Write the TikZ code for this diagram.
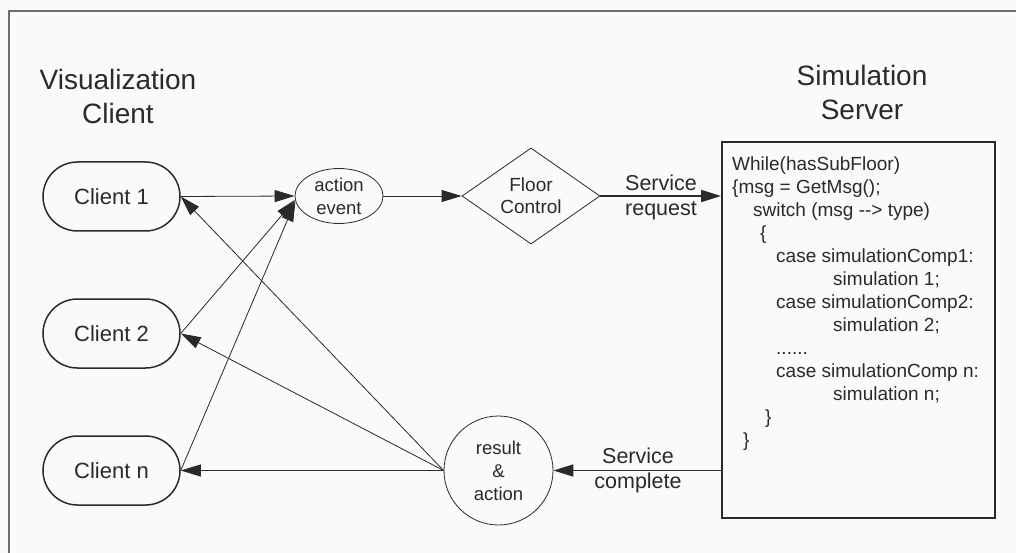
\documentclass[tikz,border=0pt]{standalone}
\usepackage{fontspec}
\setmainfont{Liberation Sans}
\usetikzlibrary{arrows.meta,shapes.geometric}
\definecolor{ink}{RGB}{42,42,42}
\definecolor{bg}{RGB}{250,250,248}
\definecolor{framec}{RGB}{110,110,110}
\begin{document}
\begin{tikzpicture}[x=1pt,y=-1pt,
  every node/.style={text=ink, inner sep=0pt},
  client/.style={draw=ink, line width=1.5pt, rounded corners=34.5pt, minimum width=137pt, minimum height=69pt, font=\fontsize{22}{26}\selectfont},
  small/.style={font=\fontsize{18.5}{23}\selectfont, align=center},
  title/.style={font=\fontsize{28}{34}\selectfont, align=center, anchor=north},
  code/.style={font=\fontsize{19}{23}\selectfont, anchor=base west},
  lbl/.style={font=\fontsize{21.5}{25}\selectfont, align=center},
  arr/.style={draw=ink, line width=0.8pt, -{Triangle[length=20pt,width=12pt]}, fill=none},
  thick arr/.style={arr, line width=1.6pt}
]
\fill[bg] (0,0) rectangle (1016,553);
\useasboundingbox (0,0) rectangle (1016,553);
\draw[framec, line width=1.5pt] (9,553) -- (9,11) -- (1016,11);

\node[title] (vtitle) at (118,68.6) {Visualization\\Client};
\node[title] (stitle) at (862,64.6) {Simulation\\Server};

\node[client] (c1) at (111.5,196.5) {Client 1};
\node[client] (c2) at (111.5,333.5) {Client 2};
\node[client] (cn) at (111.5,470.5) {Client n};

\node[ellipse, draw=ink, line width=0.8pt, minimum width=88pt, minimum height=55pt, small] (act) at (339,196) {action\\event};
\node[diamond, draw=ink, line width=0.8pt, aspect=1.4375, minimum width=138pt, minimum height=96pt, font=\fontsize{19}{22}\selectfont, align=center] (fc) at (531,196) {Floor\\Control};
\node[circle, draw=ink, line width=0.8pt, minimum size=109pt, small] (res) at (498.5,470.5) {result\\\&\\action};

\node[draw=ink, line width=1.8pt, minimum width=273pt, minimum height=376pt] (srv) at (858.5,330) {};

\node[code] (l1) at (732,170.7) {While(hasSubFloor)};
\node[code] (l2) at (732,193.7) {\{msg = GetMsg();};
\node[code] (l3) at (753,216.7) {switch (msg -{}-> type)};
\node[code] (l4) at (760,239.7) {\{};
\node[code] (l5) at (776,262.7) {case simulationComp1:};
\node[code] (l6) at (833,285.7) {simulation 1;};
\node[code] (l7) at (776,308.7) {case simulationComp2:};
\node[code] (l8) at (833,331.7) {simulation 2;};
\node[code] (l9) at (776,354.7) {......};
\node[code] (l10) at (776,377.7) {case simulationComp n:};
\node[code] (l11) at (833,400.7) {simulation n;};
\node[code] (l12) at (765,423.7) {\}};
\node[code] (l13) at (743,446.7) {\}};

\draw[arr] (c1.east) -- (act.west);
\draw[arr] (c2.east) -- (act.185);
\draw[arr] (cn.east) -- (act.187);
\draw[arr] (act.east) -- (fc.west);
\draw[thick arr] (fc.east) -- (fc.east -| srv.west);
\draw[thick arr] (res.east -| srv.west) -- (res.east);
\draw[arr] (res.west) -- (cn.east);
\draw[arr] (res.west) -- (c2.east);
\draw[arr] (res.west) -- (c1.east);

\node[lbl] (sreq) at (661,197) {Service\\request};
\node[lbl] (scomp) at (638,470.5) {Service\\complete};
\end{tikzpicture}
\end{document}
